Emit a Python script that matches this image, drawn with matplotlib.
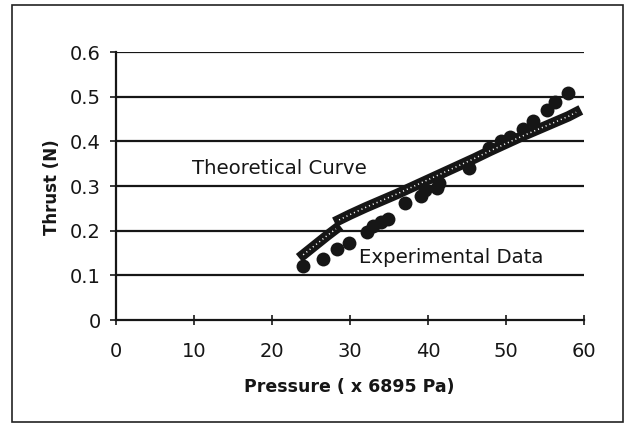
import numpy as np
import matplotlib
matplotlib.use("Agg")
import matplotlib.pyplot as plt
from matplotlib.patches import Rectangle

# Experimental data (circles)
exp_x = [24.0, 26.5, 28.3, 29.9, 32.2, 33.0, 34.0, 34.9, 37.1, 39.1, 39.6,
         41.2, 41.4, 45.2, 47.8, 49.3, 50.5, 52.2, 53.5, 55.2, 56.3, 58.0]
exp_y = [0.122, 0.137, 0.160, 0.173, 0.196, 0.210, 0.219, 0.227, 0.262, 0.277, 0.290,
         0.296, 0.306, 0.340, 0.386, 0.400, 0.410, 0.427, 0.446, 0.471, 0.488, 0.508]

# Theoretical curve (two segments, with a step near 28.5)
theo1_x = [24.0, 25.0, 26.0, 27.0, 28.2]
theo1_y = [0.146, 0.160, 0.174, 0.188, 0.204]
theo2_x = [28.6, 30, 32, 34, 36, 38, 40, 42, 44, 46, 48, 50, 52, 54, 56, 58, 59.0]
theo2_y = [0.224, 0.236, 0.252, 0.267, 0.282, 0.298, 0.314, 0.330, 0.346, 0.362,
           0.379, 0.395, 0.411, 0.426, 0.441, 0.456, 0.465]

x_ticks = [0, 10, 20, 30, 40, 50, 60]
y_ticks = [0, 0.1, 0.2, 0.3, 0.4, 0.5, 0.6]
y_tick_labels = ["0", "0.1", "0.2", "0.3", "0.4", "0.5", "0.6"]

plt.rcParams['font.family'] = ['DejaVu Sans']

INK = '#161616'

fig = plt.figure(figsize=(6.26, 4.23), dpi=100)
fig.patch.set_facecolor('white')
fig.patches.append(Rectangle((12/626, 1/423), 611/626, 417/423, transform=fig.transFigure,
                             fill=False, edgecolor='#222222', linewidth=1.2))

ax = fig.add_axes([116/626, 1 - 320/423, 468/626, 268/423])
ax.set_xlim(0, 60)
ax.set_ylim(0, 0.6)

for yv in y_ticks[1:]:
    ax.axhline(yv, color=INK, linewidth=1.6, zorder=1)

for tx, ty in [(theo1_x, theo1_y), (theo2_x, theo2_y)]:
    ax.plot(tx, ty, color=INK, linewidth=7.5, solid_capstyle='projecting', zorder=3)
    ax.plot(tx, ty, color='white', linewidth=1.1, linestyle=(0, (0.7, 2.0)), zorder=4)

ax.plot(exp_x, exp_y, 'o', color=INK, markersize=10, markeredgewidth=0, zorder=2)

ax.spines['top'].set_visible(False)
ax.spines['right'].set_visible(False)
for s in ['left', 'bottom']:
    ax.spines[s].set_linewidth(1.6)
    ax.spines[s].set_color(INK)

ax.set_xticks(x_ticks)
ax.set_xticklabels([str(v) for v in x_ticks])
ax.set_yticks(y_ticks)
ax.set_yticklabels(y_tick_labels)
ax.tick_params(axis='x', direction='inout', length=7, width=1.2, pad=12, labelsize=14, colors=INK)
ax.tick_params(axis='y', direction='out', length=4, width=1.2, pad=7, labelsize=14, colors=INK)

ax.set_xlabel("Pressure ( x 6895 Pa)", fontsize=12.5, fontweight='bold', color=INK)
ax.set_ylabel("Thrust (N)", fontsize=12, fontweight='bold', color=INK)
ax.xaxis.set_label_coords(0.499, -0.25)
ax.yaxis.set_label_coords(-0.137, 0.494)
ax.xaxis.label.set_va('center')
ax.yaxis.label.set_va('center')

ax.text(9.8, 0.340, "Theoretical Curve", fontsize=14.2, va='center', ha='left', color=INK)
ax.text(31.1, 0.141, "Experimental Data", fontsize=14.2, va='center', ha='left', color=INK)

fig.savefig("out.png", dpi=100)
